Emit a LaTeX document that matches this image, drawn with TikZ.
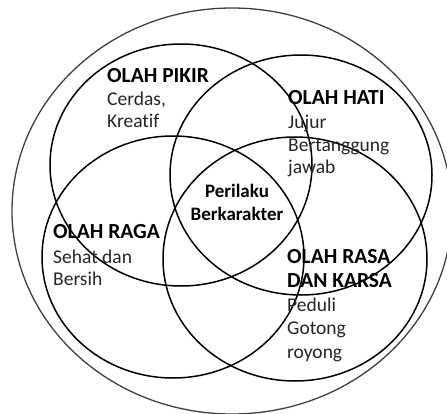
\documentclass[tikz,border=0pt]{standalone}
\usepackage{fontspec}
\setmainfont{Carlito}[Ligatures=NoCommon]
\begin{document}
\begin{tikzpicture}[x=1pt,y=-1pt,
  ring/.style={line width=1.5pt,draw=black},
  outerring/.style={line width=1.3pt,draw=black!75},
  head/.style={anchor=base west,inner sep=0pt,font=\fontsize{21.5}{24}\selectfont\bfseries,text=black},
  body/.style={anchor=base west,inner sep=0pt,font=\fontsize{19.5}{22}\selectfont,text=black!85},
  mid/.style={anchor=base,inner sep=0pt,font=\fontsize{19}{22}\selectfont\bfseries,text=black}]
\useasboundingbox (0,0) rectangle (447,414);
\fill[white] (0,0) rectangle (447,414);
\draw[outerring] (232,211) ellipse [x radius=220, y radius=203];
\draw[ring] (181,165) ellipse [x radius=131, y radius=121];
\draw[ring] (301,175) ellipse [x radius=131, y radius=120];
\draw[ring] (173,257) ellipse [x radius=131, y radius=121];
\draw[ring] (295,259) ellipse [x radius=132, y radius=122];
\node[head] (pikir) at (107,83) {OLAH PIKIR};
\node[body] (pikir1) at (107,106) {Cerdas,};
\node[body] (pikir2) at (107,128) {Kreatif};
\node[head] (hati) at (288,105) {OLAH HATI};
\node[body] (hati1) at (288,129) {Jujur};
\node[body] (hati2) at (288,152) {Bertanggung};
\node[body] (hati3) at (288,174) {jawab};
\node[mid] (mid1) at (237,198) {Perilaku};
\node[mid] (mid2) at (237,221) {Berkarakter};
\node[head] (raga) at (53,239) {OLAH RAGA};
\node[body] (raga1) at (53,263) {Sehat dan};
\node[body] (raga2) at (53,285) {Bersih};
\node[head] (rasa) at (287,263) {OLAH RASA};
\node[head] (karsa) at (287,287) {DAN KARSA};
\node[body] (rasa1) at (287,311) {Peduli};
\node[body] (rasa2) at (287,334) {Gotong};
\node[body] (rasa3) at (287,358) {royong};
\end{tikzpicture}
\end{document}
